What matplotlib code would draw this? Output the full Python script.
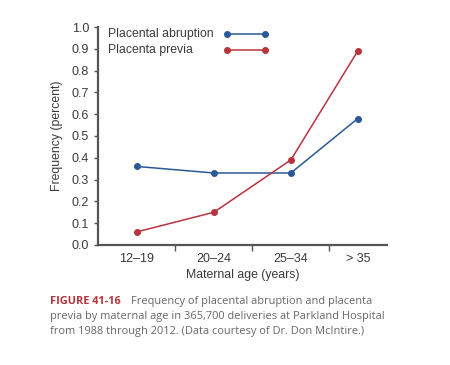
import matplotlib.pyplot as plt
import numpy as np

# Daten
age_groups = ["12\u201319", "20\u201324", "25\u201334", "> 35"]
group_pos = [0, 1, 2, 2.87]
abruption = [0.36, 0.33, 0.33, 0.58]
previa = [0.06, 0.15, 0.39, 0.89]
series_names = ["Placental abruption", "Placenta previa"]

blue = "#2b5896"
red = "#b7333d"
axis_col = "#555555"
text_col = "#3a3a3a"

plt.rcParams["font.family"] = ["Liberation Sans", "DejaVu Sans"]

fig = plt.figure(figsize=(4.5, 3.65), dpi=100)
ax = fig.add_axes([0.218, 0.329, 0.642, 0.597])

ax.plot(group_pos, abruption, "-o", color=blue, lw=1.1, ms=4)
ax.plot(group_pos, previa, "-o", color=red, lw=1.1, ms=4)

ax.set_xlim(-0.506, 3.25)
ax.set_ylim(0, 1.0)
yt = np.arange(0, 1.01, 0.1)
ax.set_yticks(yt)
ax.set_yticklabels([f"{v:.1f}" for v in yt])
ax.set_xticks(group_pos)
ax.set_xticklabels(age_groups)
ax.set_xticks([0.5, 1.5, 2.5], minor=True)
ax.tick_params(axis="x", which="major", length=0, labelsize=9, colors=text_col, pad=6)
ax.tick_params(axis="x", which="minor", length=4, width=1, color=axis_col)
ax.tick_params(axis="y", length=3, width=1, color=axis_col, labelsize=9, labelcolor=text_col)

for s in ["top", "right"]:
    ax.spines[s].set_visible(False)
for s in ["left", "bottom"]:
    ax.spines[s].set_color(axis_col)
    ax.spines[s].set_linewidth(1.6)

ax.set_xlabel("Maternal age (years)", fontsize=8.8, color=text_col, labelpad=3)
ax.set_ylabel("Frequency (percent)", fontsize=8.8, color=text_col, labelpad=6)

# Legende von Hand: Text links, Linie mit zwei Punkten rechts
for name, col, yy in zip(series_names, [blue, red], [0.968, 0.894]):
    ax.text(0.035, yy, name, transform=ax.transAxes, fontsize=8.8, color=text_col,
            va="center", ha="left")
    ax.plot([0.446, 0.578], [yy, yy], "-o", color=col, lw=1.1, ms=4,
            transform=ax.transAxes, clip_on=False)

# Bildunterschrift
cap_font = ["Open Sans", "DejaVu Sans"]
cap_col = "#666666"
fig.text(0.112, 0.168, "FIGURE 41-16", color=red, fontsize=7.9, fontweight="bold", family=cap_font)
fig.text(0.291, 0.168, "Frequency of placental abruption and placenta", color=cap_col,
         fontsize=7.9, family=cap_font)
fig.text(0.112, 0.127, "previa by maternal age in 365,700 deliveries at Parkland Hospital",
         color=cap_col, fontsize=7.9, family=cap_font)
fig.text(0.112, 0.086, "from 1988 through 2012. (Data courtesy of Dr. Don McIntire.)",
         color=cap_col, fontsize=7.9, family=cap_font)

fig.savefig("out.png", dpi=100, facecolor="white")
